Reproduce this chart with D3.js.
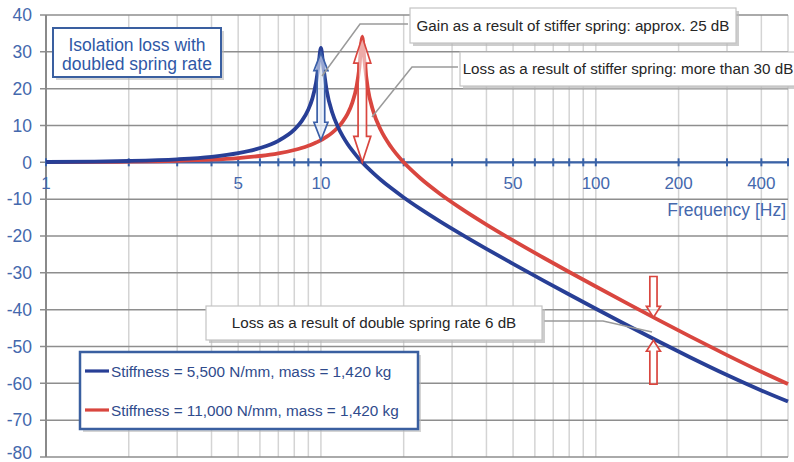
<!DOCTYPE html>
<html>
<head>
<meta charset="utf-8">
<script src="https://cdn.jsdelivr.net/npm/d3@7"></script>
<style>
  html, body { margin: 0; padding: 0; background: #ffffff; }
  svg { display: block; font-family: "Liberation Sans", Arial, Helvetica, sans-serif; }
</style>
</head>
<body>
<svg id="chart" width="794" height="462"></svg>
<script>
// ---------- data ----------
const frequencies = [1, 1.5, 2, 3, 4, 5, 6, 7, 8, 8.5, 9, 9.3, 9.6, 9.8, 10, 10.2, 10.5, 11, 11.5, 12, 12.5, 13, 13.5, 13.8, 14.14, 14.4, 14.8, 15.5, 16.5, 18, 20, 23, 27, 32, 40, 50, 65, 80, 100, 130, 170, 220, 300, 400, 500];
const blueValues = [0.09, 0.20, 0.36, 0.82, 1.51, 2.50, 3.88, 5.85, 8.87, 11.13, 14.35, 17.23, 21.63, 26.35, 31.06, 26.12, 19.45, 13.47, 9.79, 7.11, 4.99, 3.22, 1.69, 0.87, 0.0, -0.62, -1.51, -2.93, -4.72, -7.00, -9.53, -12.63, -15.95, -19.28, -23.49, -27.56, -32.24, -35.88, -39.74, -44.22, -48.71, -52.91, -57.74, -61.93, -64.94];
const redValues = [0.04, 0.10, 0.18, 0.40, 0.72, 1.16, 1.72, 2.44, 3.35, 3.89, 4.51, 4.92, 5.37, 5.68, 6.02, 6.38, 6.96, 8.07, 9.40, 11.06, 13.18, 16.14, 20.85, 25.76, 34.07, 27.54, 20.22, 13.88, 8.83, 4.15, 0.0, -4.32, -8.44, -12.29, -16.89, -21.19, -26.04, -29.77, -33.72, -38.29, -42.90, -47.25, -52.34, -56.87, -60.20];
const seriesNames = ["Stiffness = 5,500 N/mm, mass = 1,420 kg", "Stiffness = 11,000 N/mm, mass = 1,420 kg"];
const gridFrequencies = [1,2,3,4,5,6,7,8,9,10,20,30,40,50,60,70,80,90,100,200,300,400,500];
const xTickLabels = [1, 5, 10, 50, 100, 200, 400];
const yTicks = [-80, -70, -60, -50, -40, -30, -20, -10, 0, 10, 20, 30, 40];
// double arrows: [frequency, tip dB, tip dB]
const peakArrows = [[10, 29.8, 6.0], [14.14, 34.0, 0.0]];
// single arrows: [frequency, tail dB, tip dB]
const rateArrows = [[162, -31.0, -42.1], [162, -60.2, -48.3]];

// ---------- setup ----------
const svg = d3.select("#chart");
const x = d3.scaleLog().domain([1, 500]).range([46, 788]);
const y = d3.scaleLinear().domain([-80, 40]).range([457, 15]);

const axisBlue = "#3a63a8";
const labelBlue = "#4468ad";
const navy = "#283f96";
const red = "#d9463f";

// ---------- grid ----------
const g = svg.append("g");
g.selectAll("line.vgrid").data(gridFrequencies.slice(1)).enter().append("line")
  .attr("x1", d => x(d)).attr("x2", d => x(d))
  .attr("y1", y(40)).attr("y2", y(-80))
  .attr("stroke", "#d4d4d4").attr("stroke-width", 1.5);

g.selectAll("line.hgrid").data(yTicks).enter().append("line")
  .attr("x1", x(1) - 6).attr("x2", x(500))
  .attr("y1", d => y(d)).attr("y2", d => y(d))
  .attr("stroke", "#8e8e8e").attr("stroke-width", 1.5);

// left axis line
g.append("line").attr("x1", x(1)).attr("x2", x(1)).attr("y1", y(40)).attr("y2", y(-80))
  .attr("stroke", "#8a8a8a").attr("stroke-width", 2);

// y labels (the bottom one nudged up so it stays inside the frame)
g.selectAll("text.ylab").data(yTicks).enter().append("text")
  .attr("x", 32).attr("y", d => y(d) - (d === -80 ? 4 : 0)).attr("dy", "0.36em")
  .attr("text-anchor", "end").attr("font-size", 17.5).attr("fill", labelBlue)
  .text(d => d);

// zero axis (blue) with ticks
g.append("line").attr("x1", x(1)).attr("x2", x(500)).attr("y1", y(0)).attr("y2", y(0))
  .attr("stroke", axisBlue).attr("stroke-width", 2.2);
g.selectAll("line.tick").data(gridFrequencies).enter().append("line")
  .attr("x1", d => x(d)).attr("x2", d => x(d))
  .attr("y1", y(0) - 4).attr("y2", y(0) + 4)
  .attr("stroke", axisBlue).attr("stroke-width", 2);
g.selectAll("text.xlab").data(xTickLabels).enter().append("text")
  .attr("x", d => x(d)).attr("y", y(0) + 21).attr("dy", "0.36em")
  .attr("text-anchor", "middle").attr("font-size", 17).attr("fill", labelBlue)
  .text(d => d);
g.append("text").attr("x", 786).attr("y", 210).attr("dy", "0.36em")
  .attr("text-anchor", "end").attr("font-size", 17.5).attr("fill", labelBlue)
  .text("Frequency [Hz]");

// ---------- curves ----------
const line = d3.line().x(d => x(d[0])).y(d => y(d[1])).curve(d3.curveMonotoneX);
const redData = frequencies.map((f, i) => [f, redValues[i]]);
const blueData = frequencies.map((f, i) => [f, blueValues[i]]);
svg.append("path").attr("d", line(redData)).attr("fill", "none")
  .attr("stroke", red).attr("stroke-width", 3.8).attr("stroke-linejoin", "round");
svg.append("path").attr("d", line(blueData)).attr("fill", "none")
  .attr("stroke", navy).attr("stroke-width", 3.8).attr("stroke-linejoin", "round");

// ---------- arrows ----------
function doubleArrow(cx, yTop, yBot, h, hw, sw) {
  return `M${cx},${yTop} L${cx+hw},${yTop+h} L${cx+sw},${yTop+h} L${cx+sw},${yBot-h} L${cx+hw},${yBot-h} L${cx},${yBot} L${cx-hw},${yBot-h} L${cx-sw},${yBot-h} L${cx-sw},${yTop+h} L${cx-hw},${yTop+h} Z`;
}
function singleArrow(cx, yTail, yTip, h, hw, sw) {
  const s = yTip > yTail ? 1 : -1;
  const yb = yTip - s * h;
  return `M${cx-sw},${yTail} L${cx+sw},${yTail} L${cx+sw},${yb} L${cx+hw},${yb} L${cx},${yTip} L${cx-hw},${yb} L${cx-sw},${yb} Z`;
}
const arrowStyles = [
  {stroke: "#3a5fa8", fill: "rgba(225,235,250,0.6)", h: 18, hw: 7, sw: 3.8},
  {stroke: red, fill: "rgba(255,255,255,0.55)", h: 26, hw: 8.5, sw: 4.2}
];
peakArrows.forEach((a, i) => {
  const st = arrowStyles[i];
  svg.append("path").attr("d", doubleArrow(x(a[0]), y(a[1]), y(a[2]), st.h, st.hw, st.sw))
    .attr("fill", st.fill).attr("stroke", st.stroke).attr("stroke-width", 1.7);
});
rateArrows.forEach(a => {
  svg.append("path").attr("d", singleArrow(x(a[0]), y(a[1]), y(a[2]), 11, 7, 3.6))
    .attr("fill", "rgba(255,255,255,0.6)").attr("stroke", red).attr("stroke-width", 1.7);
});

// ---------- callout boxes ----------
function callout(bx, by, bw, bh, text, leader) {
  svg.append("polyline").attr("points", leader.map(p => p.join(",")).join(" "))
    .attr("fill", "none").attr("stroke", "#9a9a9a").attr("stroke-width", 1.5);
  svg.append("rect").attr("x", bx + 3).attr("y", by + 3).attr("width", bw).attr("height", bh)
    .attr("fill", "#b8b8b8").attr("opacity", 0.7);
  svg.append("rect").attr("x", bx).attr("y", by).attr("width", bw).attr("height", bh)
    .attr("fill", "#ffffff").attr("stroke", "#c4c4c4").attr("stroke-width", 1.2);
  svg.append("text").attr("x", bx + bw / 2).attr("y", by + bh / 2).attr("dy", "0.36em")
    .attr("text-anchor", "middle").attr("font-size", 15.2).attr("fill", "#262626")
    .text(text);
}
callout(410, 8, 326, 35, "Gain as a result of stiffer spring: approx. 25 dB",
  [[322, 76], [360, 24], [408, 24]]);
callout(460, 52, 336, 34, "Loss as a result of stiffer spring: more than 30 dB",
  [[372, 117], [412, 67], [458, 67]]);
callout(206, 306, 336, 34, "Loss as a result of double spring rate 6 dB",
  [[544, 321], [603, 321], [652, 332]]);

// ---------- "Isolation loss" box ----------
svg.append("rect").attr("x", 56).attr("y", 31).attr("width", 168).attr("height", 49)
  .attr("fill", "#b8b8b8").attr("opacity", 0.6);
svg.append("rect").attr("x", 53).attr("y", 28).attr("width", 168).attr("height", 49)
  .attr("fill", "#ffffff").attr("stroke", "#3a5fa0").attr("stroke-width", 2);
svg.append("text").attr("x", 137).attr("y", 45).attr("dy", "0.36em")
  .attr("text-anchor", "middle").attr("font-size", 17.5).attr("fill", "#2f58a6")
  .text("Isolation loss with");
svg.append("text").attr("x", 137).attr("y", 63.5).attr("dy", "0.36em")
  .attr("text-anchor", "middle").attr("font-size", 17.5).attr("fill", "#2f58a6")
  .text("doubled spring rate");

// ---------- legend ----------
svg.append("rect").attr("x", 83).attr("y", 355).attr("width", 338).attr("height", 77)
  .attr("fill", "#b8b8b8").attr("opacity", 0.6);
svg.append("rect").attr("x", 80).attr("y", 352).attr("width", 338).attr("height", 77)
  .attr("fill", "#ffffff").attr("stroke", "#3a5fa0").attr("stroke-width", 2.5);
const legendColors = [navy, red];
seriesNames.forEach((name, i) => {
  const ly = 371 + i * 39;
  svg.append("line").attr("x1", 85).attr("x2", 109).attr("y1", ly).attr("y2", ly)
    .attr("stroke", legendColors[i]).attr("stroke-width", 3.2);
  svg.append("text").attr("x", 111).attr("y", ly).attr("dy", "0.36em")
    .attr("font-size", 15.3).attr("fill", "#2f4b8c").text(name);
});
</script>
</body>
</html>
